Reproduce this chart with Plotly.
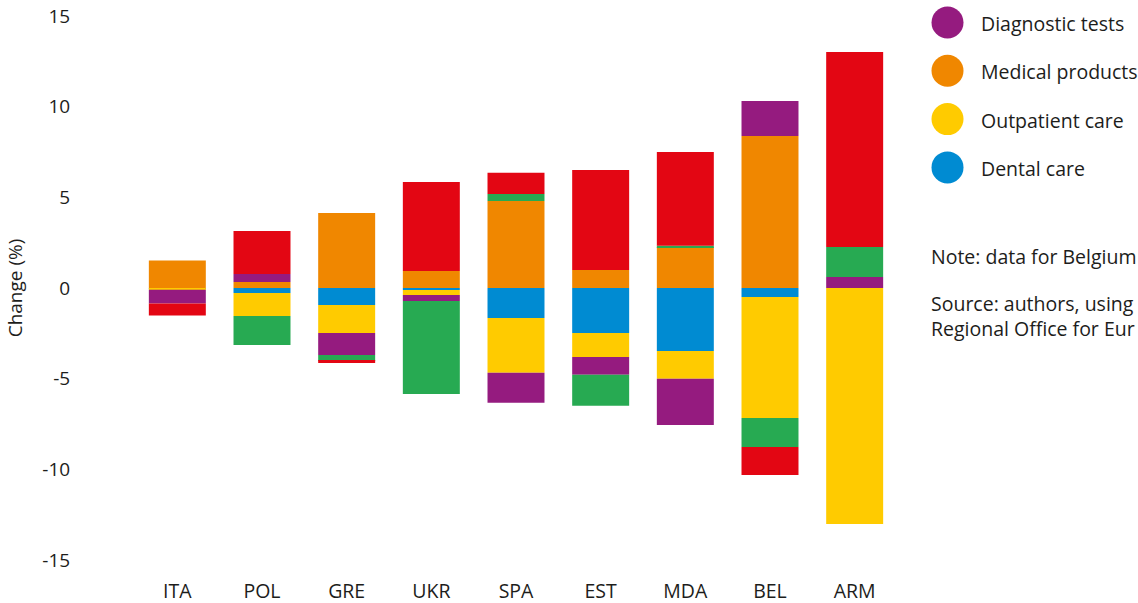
import plotly.graph_objects as go

# ---- data (percentage-point change) ----
countries = ["ITA", "POL", "GRE", "UKR", "SPA", "EST", "MDA", "BEL", "ARM"]
dental_care = [-0.05, -0.28, -0.94, -0.11, -1.65, -2.48, -3.47, -0.50, 0.0]
outpatient_care = [-0.05, -1.27, -1.54, -0.28, -3.03, -1.32, -1.54, -6.67, -13.02]
medical_products = [1.52, 0.33, 4.14, 0.94, 4.80, 0.99, 2.26, 8.38, 0.0]
diagnostic_tests = [-0.75, 0.44, -1.21, -0.33, -1.65, -0.99, -2.54, 1.93, 0.61]
inpatient_care = [0.0, -1.60, -0.33, -5.13, 0.39, -1.71, 0.07, -1.60, 1.65]
medicines = [-0.67, 2.37, -0.11, 4.91, 1.16, 5.52, 5.17, -1.54, 10.76]

y_ticks = [-15, -10, -5, 0, 5, 10, 15]
y_tick_labels = [str(v) for v in y_ticks]

series = [
    ("Dental care", dental_care, "#008BD2", True),
    ("Outpatient care", outpatient_care, "#FFCB00", True),
    ("Medical products", medical_products, "#F08700", True),
    ("Diagnostic tests", diagnostic_tests, "#951B7F", True),
    ("Inpatient care", inpatient_care, "#27AA52", False),
    ("Medicines", medicines, "#E30613", False),
]

FONT = "Open Sans, Noto Sans, sans-serif"
TXT = "#1d1d1b"

W, H = 1138, 603
ML, MT = 135, 16
PW, PH = 762, 543.9

def px(x):  # page pixel -> paper x
    return (x - ML) / PW

def py(y):  # page pixel -> paper y
    return 1 - (y - MT) / PH

fig = go.Figure()
for name, vals, color, _ in series:
    fig.add_trace(go.Bar(
        x=countries, y=vals, name=name,
        marker=dict(color=color, line=dict(width=0)),
        showlegend=False,
    ))

# custom legend (large circular swatches)
legend_items = [s for s in series if s[3]][::-1]
for i, (name, vals, color, _) in enumerate(legend_items):
    yc = 22.5 + i * 48.3
    fig.add_shape(type="circle", xref="paper", yref="paper",
                  xsizemode="pixel", ysizemode="pixel",
                  xanchor=px(947.5), yanchor=py(yc),
                  x0=-16, x1=16, y0=-16, y1=16,
                  fillcolor=color, line=dict(width=0))
    fig.add_annotation(xref="paper", yref="paper", x=px(979), y=py(yc + 1),
                       text=name, showarrow=False, xanchor="left", yanchor="middle",
                       font=dict(family=FONT, size=19.5, color=TXT))

fig.add_annotation(xref="paper", yref="paper", x=px(929), y=py(256),
                   text="Note: data for Belgium",
                   showarrow=False, xanchor="left", yanchor="middle", align="left",
                   font=dict(family=FONT, size=19.5, color=TXT))
fig.add_annotation(xref="paper", yref="paper", x=px(929), y=py(316),
                   text="Source: authors, using<br>Regional Office for Eur",
                   showarrow=False, xanchor="left", yanchor="middle", align="left",
                   font=dict(family=FONT, size=19.5, color=TXT))

fig.update_layout(
    barmode="relative",
    bargap=0.327,
    width=W, height=H,
    margin=dict(l=ML, r=W - ML - PW, t=MT, b=H - MT - PH),
    plot_bgcolor="white", paper_bgcolor="white",
    font=dict(family=FONT, size=19, color=TXT),
    xaxis=dict(
        automargin=False,
        showgrid=False, zeroline=False, showline=False,
        ticks="outside", ticklen=14, tickcolor="rgba(0,0,0,0)",
        tickfont=dict(size=19.5),
    ),
    yaxis=dict(
        automargin=False,
        range=[-15, 15], tickvals=y_ticks, ticktext=y_tick_labels,
        showgrid=False, zeroline=False, showline=False,
        ticks="outside", ticklen=60, tickcolor="rgba(0,0,0,0)",
        tickfont=dict(size=19),
        title=dict(text="Change (%)", font=dict(size=19), standoff=14),
    ),
)

fig.write_html("out.html", config={"displayModeBar": False},
               post_script="document.body.style.margin='0';")
